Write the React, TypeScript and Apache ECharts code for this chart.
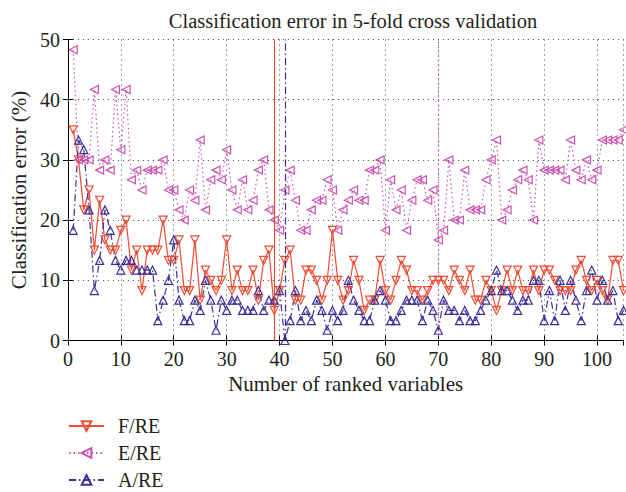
import React, { useEffect, useRef } from "react";
import * as echarts from "echarts";

const variableCounts: number[] = Array.from({ length: 105 }, (_, i) => i + 1);

const fRE: number[] = [
  35, 30, 21.7, 25, 15, 23.3, 16.7, 15, 15, 18.3,
  20, 11.7, 15, 8.3, 15, 15, 15, 20, 13.3, 13.3,
  16.7, 8.3, 8.3, 16.7, 6.7, 11.7, 10, 8.3, 10, 16.7,
  8.3, 11.7, 8.3, 8.3, 11.7, 6.7, 13.3, 15, 5, 8.3,
  13.3, 15, 6.7, 6.7, 11.7, 11.7, 10, 6.7, 10, 18.3,
  10, 6.7, 8.3, 13.3, 10, 5, 6.7, 6.7, 13.3, 8.3,
  6.7, 10, 13.3, 11.7, 8.3, 8.3, 6.7, 8.3, 10, 10,
  10, 8.3, 11.7, 10, 8.3, 11.7, 6.7, 6.7, 10, 8.3,
  5, 8.3, 11.7, 8.3, 11.7, 8.3, 8.3, 11.7, 8.3, 11.7,
  11.7, 10, 8.3, 8.3, 8.3, 11.7, 13.3, 10, 8.3, 10,
  8.3, 6.7, 13.3, 13.3, 8.3,
];

const eRE: number[] = [
  48.3, 30, 30, 30, 41.7, 28.3, 30, 28.3, 41.7, 31.7,
  41.7, 26.7, 28.3, 25, 28.3, 28.3, 28.3, 30, 25, 25,
  21.7, 20, 25, 23.3, 33.3, 21.7, 26.7, 28.3, 26.7, 31.7,
  25, 21.7, 26.7, 21.7, 23.3, 28.3, 30, 21.7, 20, 18.3,
  25, 28.3, 23.3, 18.3, 18.3, 21.7, 23.3, 23.3, 26.7, 25,
  18.3, 21.7, 23.3, 25, 23.3, 23.3, 28.3, 28.3, 30, 18.3,
  26.7, 21.7, 25, 18.3, 23.3, 26.7, 26.7, 23.3, 25, 16.7,
  18.3, 30, 20, 20, 28.3, 21.7, 21.7, 21.7, 26.7, 30,
  33.3, 20, 21.7, 25, 26.7, 28.3, 26.7, 20, 33.3, 28.3,
  28.3, 28.3, 28.3, 26.7, 33.3, 28.3, 26.7, 30, 26.7, 28.3,
  33.3, 33.3, 33.3, 33.3, 35,
];

const aRE: number[] = [
  18.3, 33.3, 31.7, 21.7, 8.3, 13.3, 21.7, 18.3, 13.3, 11.7,
  13.3, 13.3, 11.7, 11.7, 11.7, 11.7, 3.3, 6.7, 10, 16.7,
  6.7, 3.3, 3.3, 6.7, 5, 10, 6.7, 1.7, 6.7, 5,
  6.7, 6.7, 5, 5, 5, 8.3, 5, 6.7, 6.7, 8.3,
  0, 3.3, 8.3, 3.3, 5, 3.3, 6.7, 5, 1.7, 5,
  3.3, 5, 10, 6.7, 5, 3.3, 3.3, 6.7, 8.3, 6.7,
  3.3, 3.3, 5, 6.7, 6.7, 6.7, 3.3, 6.7, 5, 1.7,
  6.7, 5, 5, 3.3, 5, 3.3, 3.3, 5, 6.7, 8.3,
  11.7, 8.3, 8.3, 6.7, 5, 6.7, 6.7, 10, 10, 3.3,
  8.3, 3.3, 10, 5, 10, 6.7, 3.3, 8.3, 11.7, 6.7,
  10, 6.7, 8.3, 3.3, 5,
];

const bestF = 39;
const bestE = 70;
const bestA = 41;

const xTicks: number[] = [0, 10, 20, 30, 40, 50, 60, 70, 80, 90, 100];
const yTicks: number[] = [0, 10, 20, 30, 40, 50];

const RED = "#ef4d32";
const MAG = "#cc52b0";
const BLUE = "#3b2e98";
const INK = "#231f20";
const SERIF = "'Liberation Serif', 'DejaVu Serif', serif";

const pairs = (ys: number[]) => ys.map((y, i) => [variableCounts[i], y]);

export default function App() {
  const ref = useRef<HTMLDivElement>(null);
  useEffect(() => {
    document.body.style.margin = "0";
    const chart = echarts.init(ref.current!, null, { renderer: "svg" });
    const axisCommon = {
      axisLine: { show: true, lineStyle: { color: "#000", width: 1 } },
      axisTick: { show: true, inside: true, length: 5, lineStyle: { color: "#000" } },
    };
    const mkSeries = (
      name: string,
      ys: number[],
      color: string,
      lineType: any,
      rotate: number,
      best: number
    ) => ({
      name,
      type: "line",
      data: pairs(ys),
      symbol: "triangle",
      symbolSize: 8,
      symbolRotate: rotate,
      showAllSymbol: true,
      itemStyle: { color: "rgba(255,255,255,0)", borderColor: color, borderWidth: 1.2 },
      lineStyle: { color, width: 1.2, type: lineType },
      emphasis: { disabled: true },
      markLine: {
        silent: true,
        symbol: ["none", "none"],
        label: { show: false },
        lineStyle: { color, width: 1.2, type: lineType },
        data: [{ xAxis: best }],
      },
    });
    chart.setOption({
      animation: false,
      title: {
        text: "Classification error in 5-fold cross validation",
        left: 348,
        textAlign: "center",
        top: 5,
        textStyle: { fontFamily: SERIF, fontSize: 20.5, fontWeight: "normal", color: INK },
      },
      grid: { left: 67.5, top: 39.5, right: 2.5, bottom: 151.5, containLabel: false },
      legend: {
        orient: "vertical",
        left: 68,
        top: 416,
        padding: 0,
        itemWidth: 35,
        itemHeight: 12,
        itemGap: 7,
        data: ["F/RE", "E/RE", "A/RE"],
        textStyle: {
          fontFamily: SERIF,
          fontSize: 20,
          color: INK,
          lineHeight: 20,
          padding: [0, 0, 0, 9],
        },
      },
      xAxis: [
        {
          type: "value",
          min: 0,
          max: 105,
          interval: 10,
          name: "Number of ranked variables",
          nameLocation: "middle",
          nameGap: 31,
          nameTextStyle: { fontFamily: SERIF, fontSize: 21, color: INK },
          ...axisCommon,
          axisLabel: {
            fontFamily: SERIF,
            fontSize: 20,
            color: INK,
            margin: 8,
            showMaxLabel: false,
            formatter: (v: number) => (xTicks.includes(v) ? String(v) : ""),
          },
          splitLine: { show: true, lineStyle: { color: "#444", type: [1, 4], width: 1 } },
        },
        {
          type: "value",
          min: 0,
          max: 105,
          interval: 10,
          position: "top",
          ...axisCommon,
          axisLabel: { show: false },
          splitLine: { show: false },
        },
      ],
      yAxis: [
        {
          type: "value",
          min: 0,
          max: 50,
          interval: 10,
          name: "Classification error (%)",
          nameLocation: "middle",
          nameGap: 36,
          nameTextStyle: { fontFamily: SERIF, fontSize: 21, color: INK },
          ...axisCommon,
          axisLabel: {
            fontFamily: SERIF,
            fontSize: 20,
            color: INK,
            margin: 8,
            formatter: (v: number) => (yTicks.includes(v) ? String(v) : ""),
          },
          splitLine: { show: true, lineStyle: { color: "#444", type: [1, 4], width: 1 } },
        },
        {
          type: "value",
          min: 0,
          max: 50,
          interval: 10,
          position: "right",
          ...axisCommon,
          axisLabel: { show: false },
          splitLine: { show: false },
        },
      ],
      series: [
        mkSeries("F/RE", fRE, RED, "solid", 180, bestF),
        mkSeries("E/RE", eRE, MAG, [1.5, 3], 90, bestE),
        mkSeries("A/RE", aRE, BLUE, [7, 3, 1.5, 3], 0, bestA),
      ],
    });
    return () => chart.dispose();
  }, []);
  return <div ref={ref} style={{ width: 626, height: 492 }} />;
}
